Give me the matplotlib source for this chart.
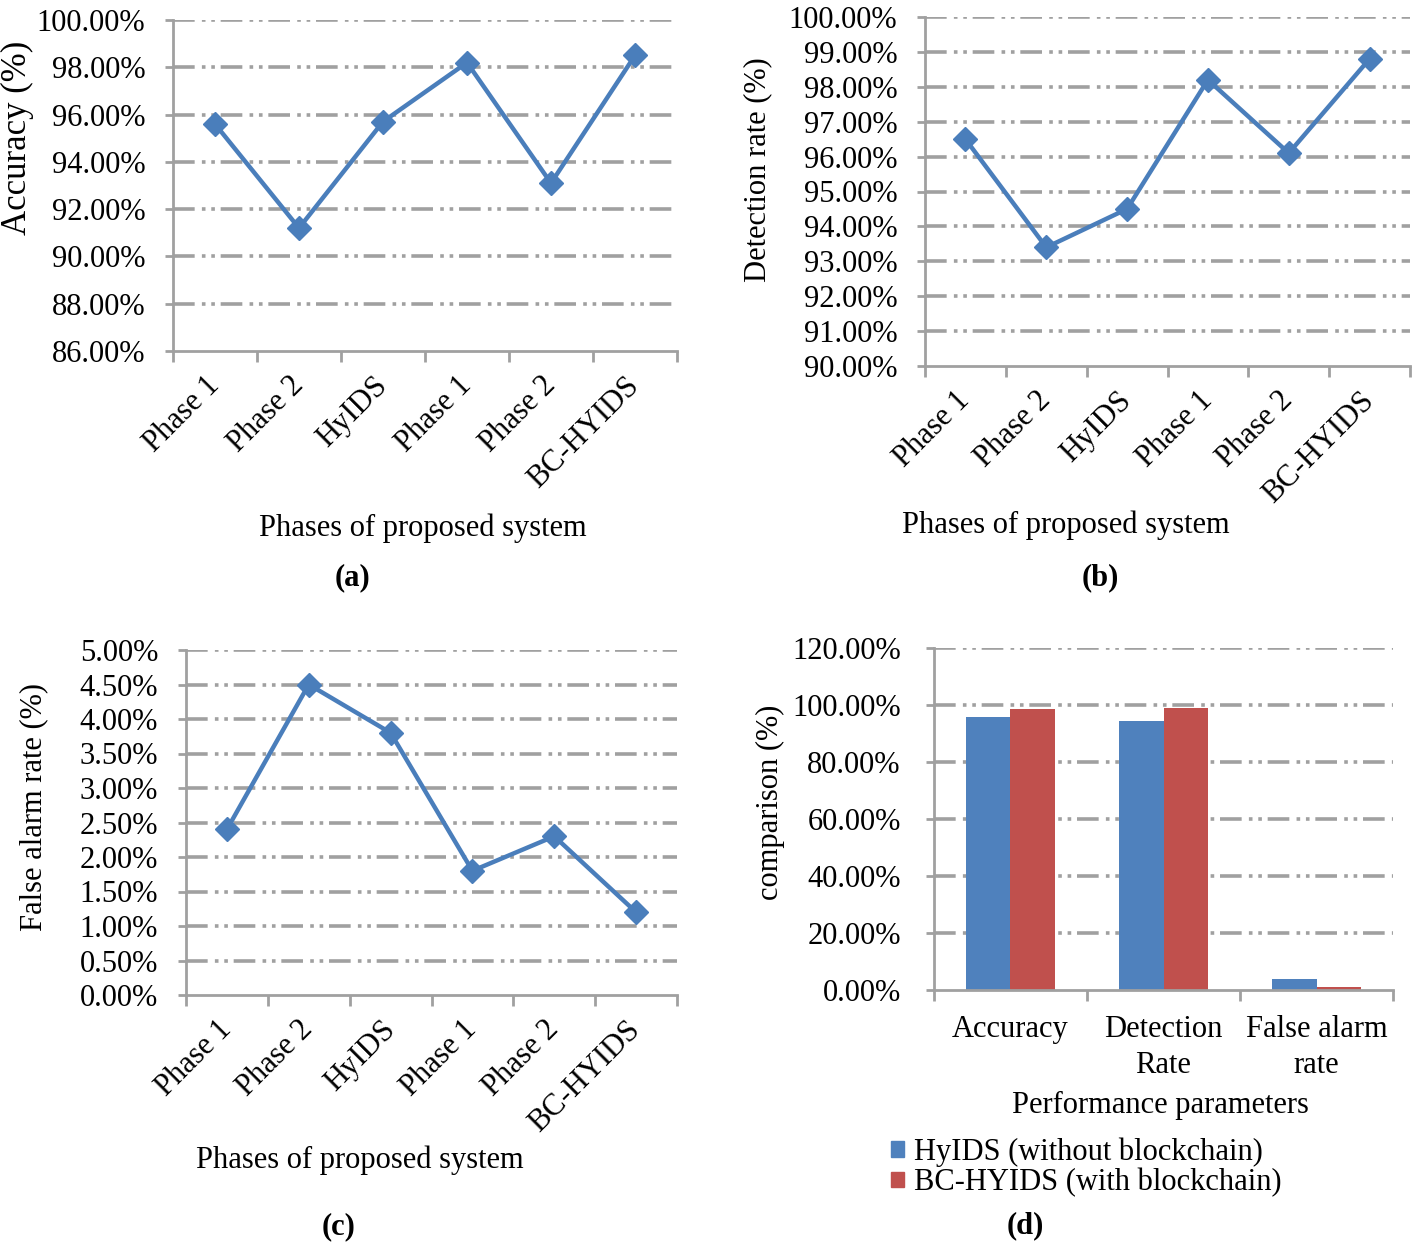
import numpy as np
import matplotlib
matplotlib.use("Agg")
import matplotlib.pyplot as plt
from matplotlib.patches import Patch

plt.rcParams['font.family'] = ['Liberation Serif', 'DejaVu Serif']

phases = ["Phase 1", "Phase 2", "HyIDS", "Phase 1", "Phase 2", "BC-HYIDS"]
accuracy = [95.6, 91.2, 95.7, 98.2, 93.1, 98.5]
detection = [96.5, 93.4, 94.5, 98.2, 96.1, 98.8]
false_alarm = [2.4, 4.5, 3.8, 1.8, 2.3, 1.2]

params = ["Accuracy", "Detection\nRate", "False alarm\nrate"]
hyids = [95.7, 94.5, 3.8]
bc_hyids = [98.5, 98.8, 1.2]

line_blue = "#4a7ebb"
bar_blue = "#4f81bd"
bar_red = "#c0504d"
grid_gray = "#a0a0a0"
axis_gray = "#a0a0a0"
fs = 22

W, H = 1416, 1247


def rect(l, t, r, b):
    return [l / W, 1 - b / H, (r - l) / W, (b - t) / H]


def ftext(x, y, s, **kw):
    # place text by pixel position of the reference
    fig.text(x / W, 1 - y / H, s, ha="center", va="center", **kw)


fig = plt.figure(figsize=(W / 100, H / 100), dpi=100)


def style_axes(ax, n, ymin, ymax, step, ypad=14):
    ax.set_xlim(-0.5, n - 0.5)
    ax.set_ylim(ymin, ymax)
    yt = np.arange(ymin, ymax + step / 2, step)
    ax.set_yticks(yt)
    ax.set_yticklabels([f"{v:.2f}%" for v in yt], fontsize=fs)
    for v in yt[1:]:
        ax.axhline(v, color=grid_gray, lw=2.6, dashes=(6, 2, 1, 1.6, 1, 1.6), zorder=0)
    for s in ["top", "right"]:
        ax.spines[s].set_visible(False)
    for s in ["left", "bottom"]:
        ax.spines[s].set_color(axis_gray)
        ax.spines[s].set_linewidth(2)
    ax.set_xticks(np.arange(n + 1) - 0.5)
    ax.set_xticklabels([""] * (n + 1))
    ax.tick_params(axis="x", which="major", length=8, width=2, color=axis_gray)
    ax.tick_params(axis="x", which="minor", length=0)
    ax.tick_params(axis="y", length=6, width=2, color=axis_gray, pad=ypad)


def line_panel(box, values, ymin, ymax, step, ylabel, ylabel_xy, xlabel_xy,
               caption_xy, caption, ylfs=fs):
    ax = fig.add_axes(rect(*box))
    style_axes(ax, len(phases), ymin, ymax, step)
    ax.plot(range(len(values)), values, color=line_blue, lw=3.2, marker="D",
            markersize=12, zorder=3)
    ax.set_xticks(np.arange(len(phases)), minor=True)
    ax.set_xticklabels(phases, minor=True, rotation=45, ha="right", va="center",
                       rotation_mode="anchor", fontsize=fs)
    ax.tick_params(axis="x", which="minor", pad=22)
    ftext(*ylabel_xy, ylabel, fontsize=ylfs, rotation=90)
    ftext(*xlabel_xy, "Phases of proposed system", fontsize=fs)
    ftext(*caption_xy, caption, fontsize=fs, fontweight="bold")
    return ax


line_panel((173, 20, 677, 351), accuracy, 86, 100, 2, "Accuracy (%)", (17, 138),
           (423, 528), (352, 578), "(a)", ylfs=25)
line_panel((925, 17, 1410, 366), detection, 90, 100, 1, "Detection rate (%)",
           (758, 170), (1066, 525), (1100, 578), "(b)")
line_panel((186, 650, 677, 995), false_alarm, 0, 5, 0.5, "False alarm rate (%)",
           (34, 807), (360, 1160), (339, 1227), "(c)")

# (d) bar comparison
ax = fig.add_axes(rect(934, 648, 1393, 990))
style_axes(ax, len(params), 0, 120, 20, ypad=18)
x = np.arange(len(params))
w = 0.29
ax.bar(x - w / 2, hyids, w, color=bar_blue, zorder=2)
ax.bar(x + w / 2, bc_hyids, w, color=bar_red, zorder=2)
ax.set_xticks(x, minor=True)
ax.set_xticklabels(params, minor=True, fontsize=fs, linespacing=1.3)
ax.tick_params(axis="x", which="minor", pad=18)
ftext(770, 802, "comparison (%)", fontsize=fs, rotation=90)
ftext(1160, 1105, "Performance parameters", fontsize=fs)
fig.legend(handles=[Patch(color=bar_blue, label="HyIDS (without blockchain)"),
                    Patch(color=bar_red, label="BC-HYIDS (with blockchain)")],
           loc="upper left", bbox_to_anchor=(876 / W, 1 - 1122 / H), frameon=False,
           fontsize=fs, handlelength=0.4, handleheight=0.4, handletextpad=0.35,
           labelspacing=0.05, borderpad=0)
ftext(1025, 1226, "(d)", fontsize=fs, fontweight="bold")

fig.savefig("out.png", dpi=100)
